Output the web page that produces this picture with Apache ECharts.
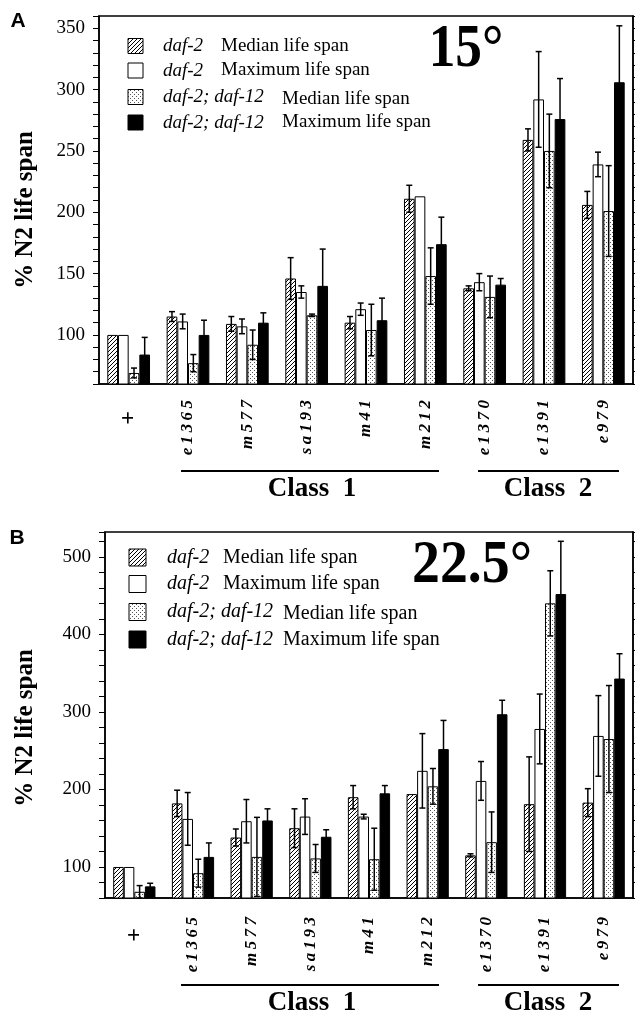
<!DOCTYPE html>
<html><head><meta charset="utf-8">
<script src="https://cdn.jsdelivr.net/npm/echarts@6/dist/echarts.min.js"></script>
<style>html,body{margin:0;padding:0;background:#fff}#c{width:635px;height:1018px}</style>
</head><body><div id="c"></div>
<script>
// ---------- DATA ----------
const categories = ['+', 'e1365', 'm577', 'sa193', 'm41', 'm212', 'e1370', 'e1391', 'e979'];
const legendStrain = ['daf-2', 'daf-2', 'daf-2; daf-12', 'daf-2; daf-12'];
const legendMeasure = ['Median life span', 'Maximum life span', 'Median life span', 'Maximum life span'];

// Panel A (15°)
const a_d2Median      = [100, 115, 109, 146, 110, 211, 138, 259, 206];
const a_d2MedianErr   = [0, 4, 6, 17, 5, 11, 2, 9, 11];
const a_d2Max         = [100, 111, 107, 135, 121, 213, 143, 292, 239];
const a_d2MaxErr      = [0, 6, 6, 5, 5, 0, 7, 39, 10];
const a_d12Median     = [69, 77, 92, 116, 104, 148, 131, 250, 201];
const a_d12MedianErr  = [4, 7, 12, 1, 21, 23, 17, 30, 37];
const a_d12Max        = [84, 100, 110, 140, 112, 174, 141, 276, 306];
const a_d12MaxErr     = [14, 12, 8, 30, 18, 22, 5, 33, 46];

// Panel B (22.5°)
const b_d2Median      = [100, 182, 138, 150, 190, 194, 115, 181, 183];
const b_d2MedianErr   = [0, 17, 11, 25, 15, 0, 2, 61, 18];
const b_d2Max         = [100, 162, 159, 165, 165, 224, 211, 278, 269];
const b_d2MaxErr      = [0, 34, 28, 23, 3, 48, 25, 45, 52];
const b_d12Median     = [68, 92, 113, 111, 110, 204, 132, 440, 265];
const b_d12MedianErr  = [8, 18, 51, 18, 40, 23, 39, 42, 69];
const b_d12Max        = [75, 113, 160, 139, 195, 252, 297, 452, 343];
const b_d12MaxErr     = [4, 18, 15, 9, 10, 37, 18, 68, 32];

const panelA = { vals: [a_d2Median, a_d2Max, a_d12Median, a_d12Max], errs: [a_d2MedianErr, a_d2MaxErr, a_d12MedianErr, a_d12MaxErr] };
const panelB = { vals: [b_d2Median, b_d2Max, b_d12Median, b_d12Max], errs: [b_d2MedianErr, b_d2MaxErr, b_d12MedianErr, b_d12MaxErr] };

// ---------- PATTERNS ----------
function makeHatch() {
  const c = document.createElement('canvas'); c.width = 4; c.height = 4;
  const g = c.getContext('2d');
  g.fillStyle = '#fff'; g.fillRect(0, 0, 4, 4);
  g.strokeStyle = '#000'; g.lineWidth = 1;
  g.beginPath();
  g.moveTo(0, 4); g.lineTo(4, 0);
  g.moveTo(-1, 1); g.lineTo(1, -1);
  g.moveTo(3, 5); g.lineTo(5, 3);
  g.stroke();
  return c;
}
function makeDots() {
  const c = document.createElement('canvas'); c.width = 4; c.height = 4;
  const g = c.getContext('2d');
  g.fillStyle = '#fff'; g.fillRect(0, 0, 4, 4);
  g.fillStyle = '#555';
  g.fillRect(0, 0, 1, 1);
  g.fillRect(2, 2, 1, 1);
  return c;
}
const fills = [
  { image: makeHatch(), repeat: 'repeat' },
  '#ffffff',
  { image: makeDots(), repeat: 'repeat' },
  '#000000'
];

const SERIF = '"Liberation Serif", "Times New Roman", serif';
const CAT_GAP = 0.28;

function errRender(sIdx) {
  return function (params, api) {
    const ci = api.value(0), v = api.value(1), e = api.value(2);
    if (!e) return null;
    const band = api.size([1, 0])[0];
    const bw = band * (1 - CAT_GAP) / 4;
    const x = api.coord([ci, v])[0] + (sIdx - 1.5) * bw;
    const yT = api.coord([ci, v + e])[1];
    const yB = api.coord([ci, v - e])[1];
    const cap = 3;
    const st = { stroke: '#000', lineWidth: 1.5 };
    return {
      type: 'group',
      children: [
        { type: 'line', shape: { x1: x, y1: yT, x2: x, y2: yB }, style: st },
        { type: 'line', shape: { x1: x - cap, y1: yT, x2: x + cap, y2: yT }, style: st },
        { type: 'line', shape: { x1: x - cap, y1: yB, x2: x + cap, y2: yB }, style: st }
      ]
    };
  };
}

const series = [];
[panelA, panelB].forEach((p, pi) => {
  for (let s = 0; s < 4; s++) {
    series.push({
      name: legendStrain[s] + ' ' + legendMeasure[s],
      type: 'bar', xAxisIndex: pi, yAxisIndex: pi * 2,
      data: p.vals[s],
      barGap: '0%', barCategoryGap: (CAT_GAP * 100) + '%',
      itemStyle: { color: fills[s], borderColor: '#000', borderWidth: 1 },
      silent: true, z: 2
    });
  }
  for (let s = 0; s < 4; s++) {
    series.push({
      type: 'custom', xAxisIndex: pi, yAxisIndex: pi * 2,
      data: categories.map((c, i) => [i, p.vals[s][i], p.errs[s][i]]),
      encode: { x: 0, y: 1 },
      renderItem: errRender(s),
      silent: true, z: 5, clip: true
    });
  }
});

function xAxisCfg(gi, margin) {
  return {
    type: 'category', gridIndex: gi, data: categories,
    axisLine: { lineStyle: { color: '#000', width: 1.5 } },
    axisTick: { show: false },
    axisLabel: {
      interval: 0, rotate: 90, margin: margin, color: '#000',
      fontFamily: SERIF, fontStyle: 'italic', fontWeight: 'bold', fontSize: 17,
      formatter: v => v === '+' ? '{p|+}' : v.split('').join('\u2009'),
      rich: { p: { fontSize: 24, fontStyle: 'normal', fontWeight: 'bold', fontFamily: SERIF, padding: [0, 11, 0, 0] } }
    }
  };
}
function yLeft(gi, min, max, interval, labelEvery) {
  return {
    type: 'value', gridIndex: gi, min, max, interval, position: 'left',
    axisLine: { show: true, lineStyle: { color: '#000', width: 1.5 } },
    axisTick: { show: true, length: 6, lineStyle: { color: '#000', width: 1 } },
    splitLine: { show: false },
    axisLabel: {
      margin: 14, color: '#000', fontFamily: SERIF, fontSize: 19,
      formatter: v => (v % labelEvery === 0 && v >= 100) ? String(v) : ''
    }
  };
}
function yRight(gi, min, max, interval) {
  return {
    type: 'value', gridIndex: gi, min, max, interval, position: 'right',
    axisLine: { show: true, lineStyle: { color: '#000', width: 1.5 } },
    axisTick: { show: true, length: 4, lineStyle: { color: '#000', width: 1 } },
    splitLine: { show: false }, axisLabel: { show: false }
  };
}

// ---------- GRAPHICS (legend, titles, class bars) ----------
const graphic = [];
function addLegend(x0, w, rows, strainX, measX, fs) {
  rows.forEach((y, i) => {
    graphic.push({ type: 'rect', shape: { x: x0, y: y - w / 2, width: w, height: w },
      style: { fill: fills[i], stroke: '#000', lineWidth: 1 } });
    graphic.push({ type: 'text', x: strainX, y: y,
      style: { text: legendStrain[i], font: 'italic ' + fs + 'px ' + SERIF, fill: '#000', textVerticalAlign: 'middle' } });
    graphic.push({ type: 'text', x: i < 2 ? measX[0] : measX[1], y: y + (i === 2 ? 2 : 0),
      style: { text: legendMeasure[i], font: fs + 'px ' + SERIF, fill: '#000', textVerticalAlign: 'middle' } });
  });
}
addLegend(128, 15, [46, 70.5, 97, 122.5], 163, [221, 282], 19);
addLegend(129, 17, [557.5, 584, 612, 639.5], 167, [223, 283], 20);

function addText(x, y, text, font, extra) {
  graphic.push(Object.assign({ type: 'text', x, y,
    style: { text, font, fill: '#000', textAlign: 'center', textVerticalAlign: 'middle' } }, extra || {}));
}
addText(18, 21, 'A', 'bold 21px "Liberation Sans", Arial, sans-serif');
addText(17, 538, 'B', 'bold 21px "Liberation Sans", Arial, sans-serif');
addText(26, 210, '% N2 life span', 'bold 25px ' + SERIF, { rotation: Math.PI / 2 });
addText(26, 728, '% N2 life span', 'bold 25px ' + SERIF, { rotation: Math.PI / 2 });
addText(466, 50, '15°', 'bold 62px ' + SERIF, { scaleX: 0.86 });
addText(472, 566, '22.5°', 'bold 62px ' + SERIF, { scaleX: 0.9 });

function addClass(y, ty) {
  graphic.push({ type: 'line', shape: { x1: 181, y1: y, x2: 439, y2: y }, style: { stroke: '#000', lineWidth: 2 } });
  graphic.push({ type: 'line', shape: { x1: 478, y1: y, x2: 619, y2: y }, style: { stroke: '#000', lineWidth: 2 } });
  addText(312, ty, 'Class  1', 'bold 27px ' + SERIF);
  addText(548, ty, 'Class  2', 'bold 27px ' + SERIF);
}
addClass(471, 489);
addClass(985, 1003);

const option = {
  animation: false,
  backgroundColor: '#fff',
  grid: [
    { left: 99, right: 2, top: 16, bottom: 634, show: true, borderColor: '#000', borderWidth: 1.5, containLabel: false },
    { left: 105, right: 2, top: 532, bottom: 120, show: true, borderColor: '#000', borderWidth: 1.5, containLabel: false }
  ],
  xAxis: [xAxisCfg(0, 16), xAxisCfg(1, 19)],
  yAxis: [
    yLeft(0, 60, 360, 10, 50), yRight(0, 60, 360, 10),
    yLeft(1, 60, 532, 20, 100), yRight(1, 60, 532, 20)
  ],
  series,
  graphic
};
const chart = echarts.init(document.getElementById('c'));
chart.setOption(option);
</script>
</body></html>
